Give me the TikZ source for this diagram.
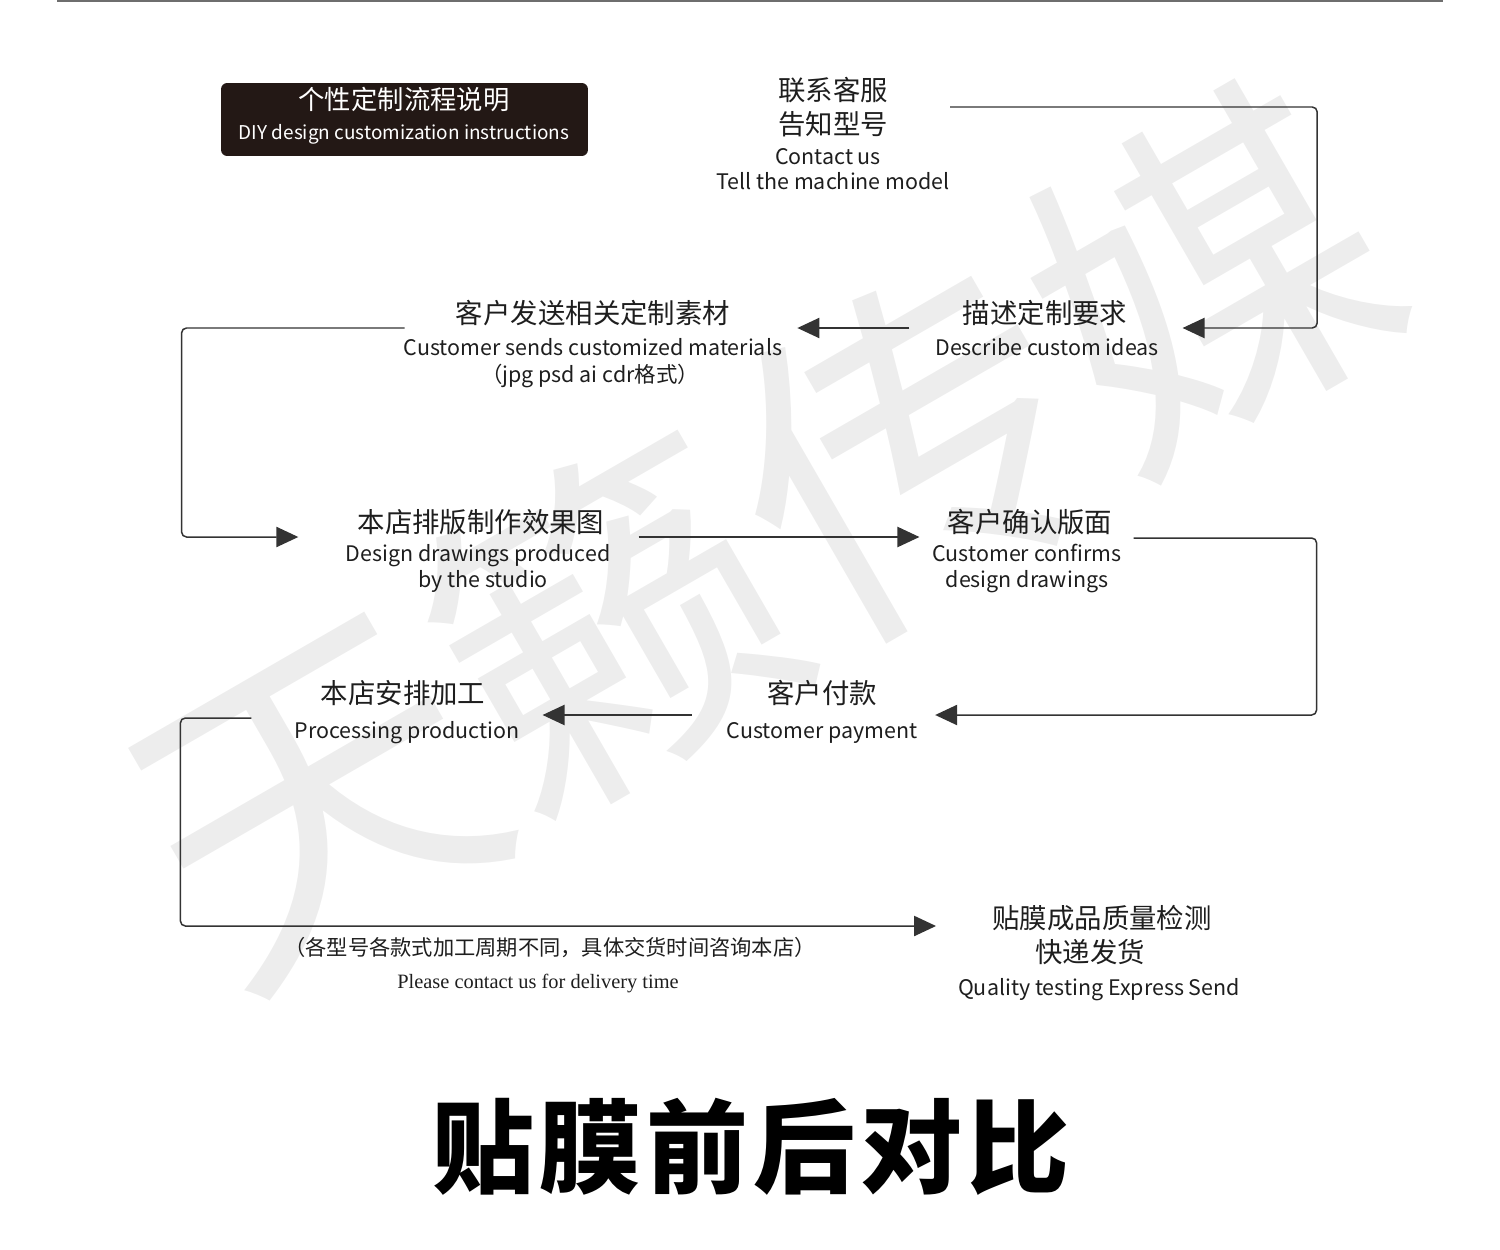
\documentclass[tikz,border=0pt]{standalone}
\usepackage{fontspec}
\setmainfont{Noto Sans CJK SC}
\newfontfamily\serifen{Liberation Serif}
\usetikzlibrary{arrows.meta,calc,positioning}

\definecolor{ink}{HTML}{1E1E1E}
\definecolor{linegray}{HTML}{333333}
\definecolor{boxblack}{HTML}{231815}
\definecolor{markgray}{HTML}{EDEDED}
\definecolor{rulegray}{HTML}{6E6E6E}

\tikzset{
  zh/.style={inner sep=0pt, text=ink, font=\fontsize{15.6}{19.4}\selectfont},
  en/.style={inner sep=0pt, anchor=base, text=ink, font=\fontsize{12.2}{15}\selectfont},
  flow/.style={draw=linegray, line width=0.85pt, rounded corners=2.8pt,
    -{Triangle[length=12.5pt,width=11.5pt]}}
}

\begin{document}
\begin{tikzpicture}[x=0.02cm,y=-0.02cm]
  \useasboundingbox (0,0) rectangle (1500,1250);

  % watermark
  \node[rotate=30, text=markgray, inner sep=0pt, font=\fontsize{196}{200}\selectfont]
    (mark) at (760,535) {天籁传媒};

  \draw[rulegray, line width=1.1pt] (57,1) -- (1443,1);

  % title box
  \node[fill=boxblack, rounded corners=3.5pt, minimum width=7.34cm,
    minimum height=1.46cm, inner sep=0pt] (titlebox) at (404.5,119.5) {};
  \node[inner sep=0pt, text=white, font=\fontsize{15}{18}\selectfont]
    (title) at (404,99) {个性定制流程说明};
  \node[inner sep=0pt, anchor=base, text=white, font=\fontsize{10.8}{13}\selectfont]
    (title-en) at (404,140) {DIY design customization instructions};

  % steps
  \node[zh, align=center] (contact) at (833,107) {联系客服\\告知型号};
  \node[en] (contact-en1) at (828,165) {Contact us};
  \node[en] (contact-en2) at (833,190) {Tell the machine model};

  \node[zh] (describe) at (1045,313) {描述定制要求};
  \node[en] (describe-en) at (1047,355) {Describe custom ideas};

  \node[zh] (materials) at (593,313) {客户发送相关定制素材};
  \node[en] (materials-en1) at (593,355) {Customer sends customized materials};
  \node[en] (materials-en2) at (590,382) {（jpg psd ai cdr格式）};

  \node[zh] (design) at (481,522) {本店排版制作效果图};
  \node[en] (design-en1) at (478,561) {Design drawings produced};
  \node[en] (design-en2) at (483,587) {by the studio};

  \node[zh] (confirm) at (1030,522) {客户确认版面};
  \node[en] (confirm-en1) at (1027,561) {Customer confirms};
  \node[en] (confirm-en2) at (1027,587) {design drawings};

  \node[zh] (process) at (403,693) {本店安排加工};
  \node[en] (process-en) at (407,738) {Processing production};

  \node[zh] (payment) at (822,693) {客户付款};
  \node[en] (payment-en) at (822,738) {Customer payment};

  \node[zh] (quality) at (1102,918) {贴膜成品质量检测};
  \node[zh] (quality2) at (1090,952) {快递发货};
  \node[en] (quality-en) at (1099,995) {Quality testing Express Send};

  \node[inner sep=0pt, text=ink, font=\fontsize{12.1}{14}\selectfont]
    (note) at (550,948) {（各型号各款式加工周期不同，具体交货时间咨询本店）};
  \node[inner sep=0pt, anchor=base, text=ink, font=\serifen\fontsize{11.6}{13}\selectfont]
    (note-en) at (538,988) {Please contact us for delivery time};

  % connectors
  \draw[flow] ($(contact.east)+(62,0)$) -- ++(367,0) |- ($(describe.east)+(55,15)$);
  \draw[flow] ($(describe.west)+(-53,15)$) -- ($(materials.east)+(67,15)$);
  \draw[flow] ($(materials.west)+(-51,15)$) -- ++(-223,0) |- ($(design.west)+(-59,15)$);
  \draw[flow] ($(design.east)+(34,15)$) -- ($(confirm.west)+(-28,15)$);
  \draw[flow] ($(confirm.east)+(21,16)$) -- ++(183,0) |- ($(payment.east)+(58,22)$);
  \draw[flow] ($(payment.west)+(-75,22)$) -- ($(process.east)+(57,22)$);
  \draw[flow] ($(process.west)+(-69,25)$) -- ++(-71,0) |- ($(quality.west)+(-56,8)$);

  % bottom heading
  \node[inner sep=0pt, text=black, font=\fontsize{58}{66}\selectfont\bfseries]
    (compare) at (751,1147) {贴\kern3pt 膜\kern3pt 前\kern3pt 后\kern3pt 对\kern3pt 比};
\end{tikzpicture}
\end{document}
